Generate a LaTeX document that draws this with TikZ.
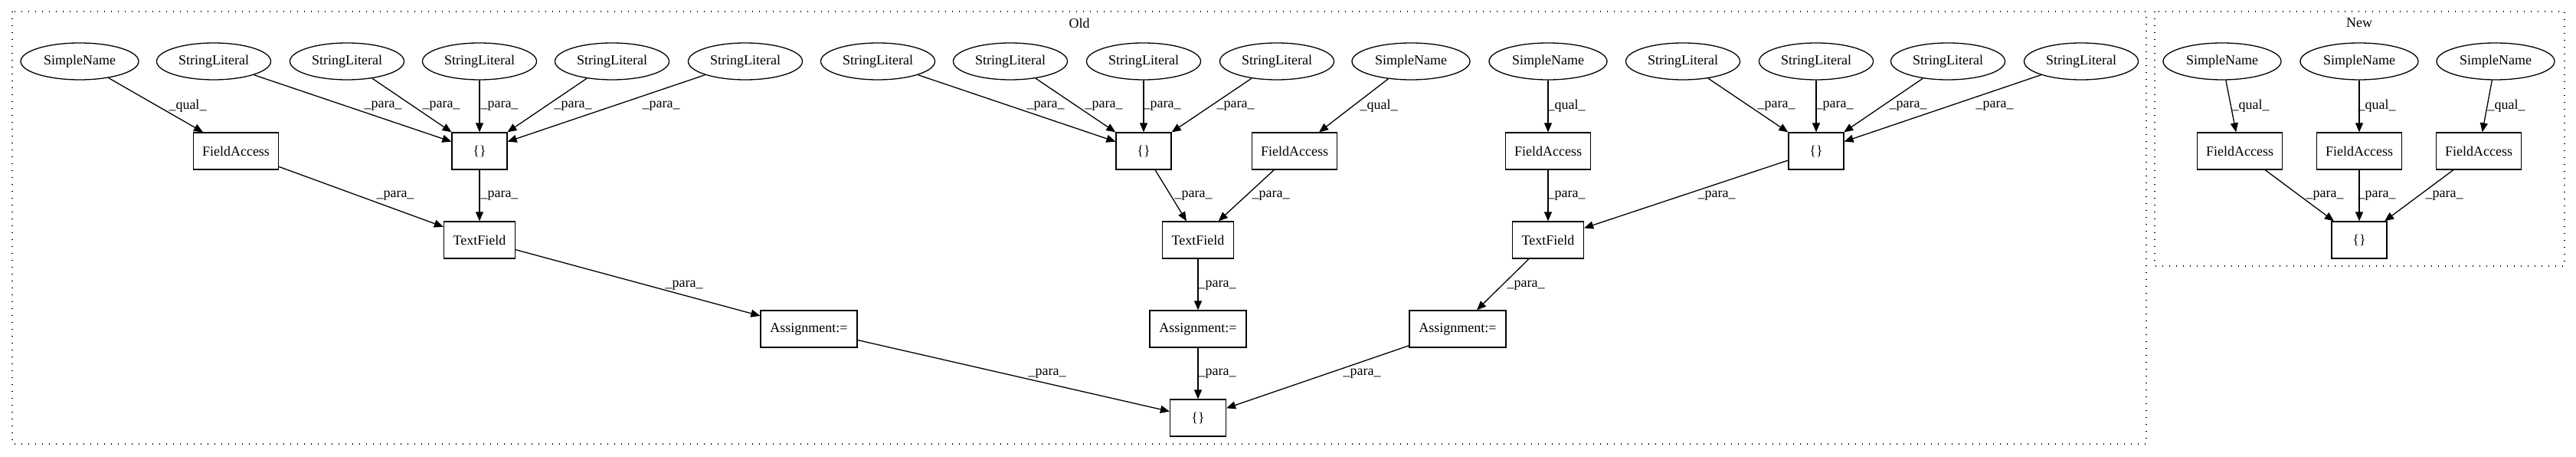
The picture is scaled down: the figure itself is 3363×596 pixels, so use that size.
\documentclass[tikz,border=0pt]{standalone}
\usepackage{fontspec}
\setmainfont{Liberation Serif}
\usetikzlibrary{shapes.geometric,arrows.meta}
\begin{document}
\begin{tikzpicture}[x=1pt,y=-1pt,
  every node/.style={font=\fontsize{18}{20}\selectfont},
  ell/.style={draw, ellipse, line width=1.3pt, minimum height=48pt, inner sep=0pt},
  sl/.style={ell, minimum width=149pt},
  sn/.style={ell, minimum width=154pt},
  box/.style={draw, rectangle, line width=1.3pt, minimum height=48pt, inner sep=0pt},
  fa/.style={box, minimum width=111pt},
  br/.style={box, minimum width=72pt},
  tf/.style={box, minimum width=93pt},
  asg/.style={box, minimum width=126pt},
  e/.style={draw, line width=1.3pt, -{Triangle[length=12pt,width=10pt]}},
  lbl/.style={inner sep=0pt},
  cl/.style={draw, line width=1.3pt, dash pattern=on 1.4pt off 7.6pt}
]
\useasboundingbox (0,0) rectangle (3363,596);
% clusters
\draw[cl] (16,15) rectangle (2802,579);
\draw[cl] (2813,15) rectangle (3348,347);
\node[lbl] (oldlbl) at (1409,30) {Old};
\node[lbl] (newlbl) at (3080,30) {New};

% Group 1
\node[sn] (sn1) at (104,80) {SimpleName};
\node[sl] (s1) at (279,80) {StringLiteral};
\node[sl] (s2) at (453,80) {StringLiteral};
\node[sl] (s3) at (626,80) {StringLiteral};
\node[sl] (s4) at (799,80) {StringLiteral};
\node[sl] (s5) at (973,80) {StringLiteral};
\node[fa] (fa1) at (308,197) {FieldAccess};
\node[br] (b1) at (626,197) {\{\}};
\node[tf] (tf1) at (626,313) {TextField};
\node[asg] (as1) at (1056,429) {Assignment:=};

% Group 2
\node[sl] (s6) at (1146,80) {StringLiteral};
\node[sl] (s7) at (1319,80) {StringLiteral};
\node[sl] (s8) at (1493,80) {StringLiteral};
\node[sl] (s9) at (1667,80) {StringLiteral};
\node[sn] (sn2) at (1842,80) {SimpleName};
\node[br] (b2) at (1493,197) {\{\}};
\node[fa] (fa2) at (1690,197) {FieldAccess};
\node[tf] (tf2) at (1564,313) {TextField};
\node[asg] (as2) at (1564,429) {Assignment:=};

% Group 3
\node[sn] (sn3) at (2021,80) {SimpleName};
\node[sl] (s10) at (2197,80) {StringLiteral};
\node[sl] (s11) at (2371,80) {StringLiteral};
\node[sl] (s12) at (2543,80) {StringLiteral};
\node[sl] (s13) at (2717,80) {StringLiteral};
\node[fa] (fa3) at (2021,197) {FieldAccess};
\node[br] (b3) at (2371,197) {\{\}};
\node[tf] (tf3) at (2021,313) {TextField};
\node[asg] (as3) at (1903,429) {Assignment:=};

\node[box, minimum width=73pt] (fin) at (1564,545) {\{\}};

% New
\node[sn] (n1) at (2901,80) {SimpleName};
\node[sn] (n2) at (3080,80) {SimpleName};
\node[sn] (n3) at (3258,80) {SimpleName};
\node[fa] (nf1) at (2924,197) {FieldAccess};
\node[fa] (nf2) at (3080,197) {FieldAccess};
\node[fa] (nf3) at (3236,197) {FieldAccess};
\node[br] (nb) at (3080,313) {\{\}};

% Edges group 1
\draw[e] (sn1) -- (fa1) node[lbl] at (245,138) {\_qual\_};
\draw[e] (s1) -- (b1) node[lbl] at (500,138) {\_para\_};
\draw[e] (s2) -- (b1) node[lbl] at (576,138) {\_para\_};
\draw[e] (s3) -- (b1) node[lbl] at (652,138) {\_para\_};
\draw[e] (s4) -- (b1) node[lbl] at (748,138) {\_para\_};
\draw[e] (s5) -- (b1) node[lbl] at (863,138) {\_para\_};
\draw[e] (fa1) -- (tf1) node[lbl] at (516,255) {\_para\_};
\draw[e] (b1) -- (tf1) node[lbl] at (652,255) {\_para\_};
\draw[e] (tf1) -- (as1) node[lbl] at (893,372) {\_para\_};
\draw[e] (as1) -- (fin) node[lbl] at (1367,487) {\_para\_};

% Edges group 2
\draw[e] (s6) -- (b2) node[lbl] at (1365,138) {\_para\_};
\draw[e] (s7) -- (b2) node[lbl] at (1441,138) {\_para\_};
\draw[e] (s8) -- (b2) node[lbl] at (1517,138) {\_para\_};
\draw[e] (s9) -- (b2) node[lbl] at (1613,138) {\_para\_};
\draw[e] (sn2) -- (fa2) node[lbl] at (1800,138) {\_qual\_};
\draw[e] (b2) -- (tf2) node[lbl] at (1558,255) {\_para\_};
\draw[e] (fa2) -- (tf2) node[lbl] at (1659,255) {\_para\_};
\draw[e] (tf2) -- (as2) node[lbl] at (1589,372) {\_para\_};
\draw[e] (as2) -- (fin) node[lbl] at (1589,487) {\_para\_};

% Edges group 3
\draw[e] (sn3) -- (fa3) node[lbl] at (2045,138) {\_qual\_};
\draw[e] (fa3) -- (tf3) node[lbl] at (2045,255) {\_para\_};
\draw[e] (s10) -- (b3) node[lbl] at (2319,138) {\_para\_};
\draw[e] (s11) -- (b3) node[lbl] at (2395,138) {\_para\_};
\draw[e] (s12) -- (b3) node[lbl] at (2491,138) {\_para\_};
\draw[e] (s13) -- (b3) node[lbl] at (2604,138) {\_para\_};
\draw[e] (b3) -- (tf3) node[lbl] at (2241,255) {\_para\_};
\draw[e] (tf3) -- (as3) node[lbl] at (1992,372) {\_para\_};
\draw[e] (as3) -- (fin) node[lbl] at (1778,487) {\_para\_};

% Edges New
\draw[e] (n1) -- (nf1) node[lbl] at (2938,138) {\_qual\_};
\draw[e] (n2) -- (nf2) node[lbl] at (3103,138) {\_qual\_};
\draw[e] (n3) -- (nf3) node[lbl] at (3272,138) {\_qual\_};
\draw[e] (nf1) -- (nb) node[lbl] at (3035,255) {\_para\_};
\draw[e] (nf2) -- (nb) node[lbl] at (3103,255) {\_para\_};
\draw[e] (nf3) -- (nb) node[lbl] at (3191,255) {\_para\_};
\end{tikzpicture}
\end{document}
